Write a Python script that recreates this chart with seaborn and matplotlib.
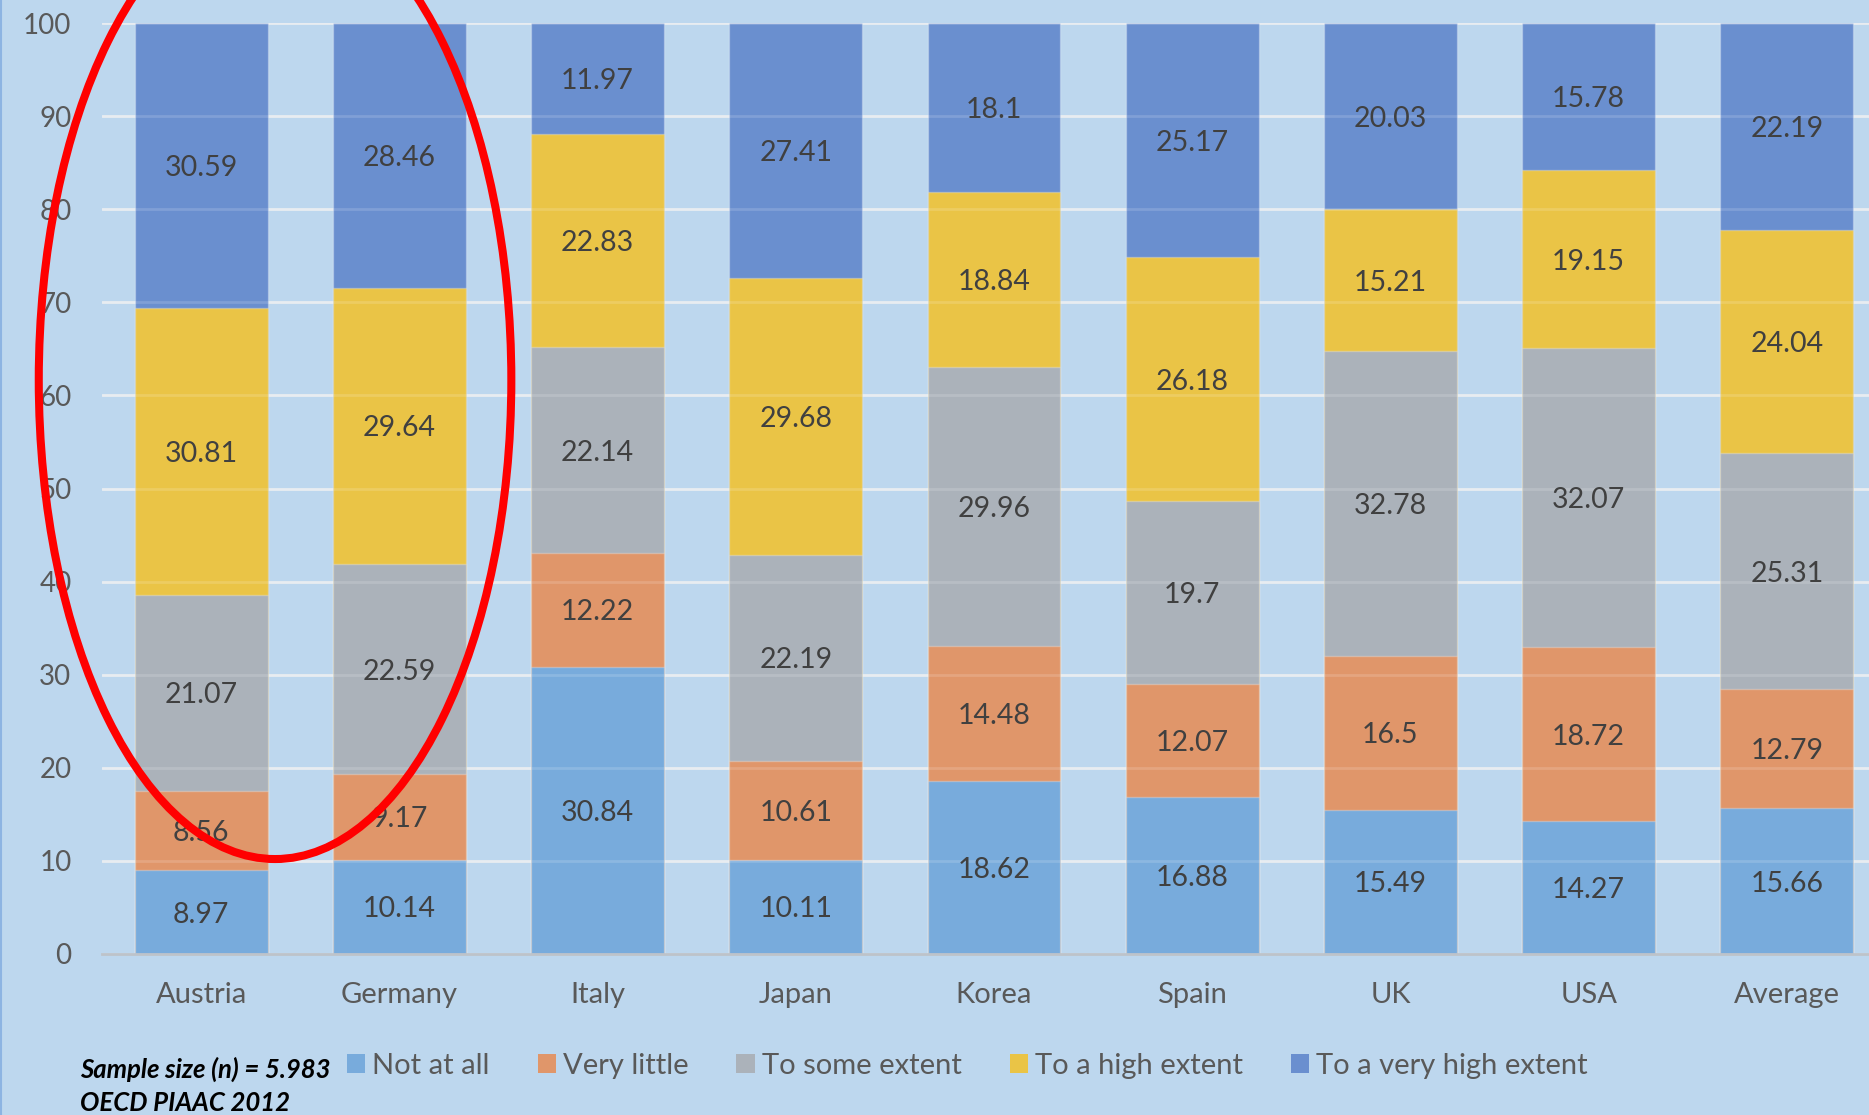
import numpy as np
import pandas as pd
import matplotlib
matplotlib.use("Agg")
import matplotlib.pyplot as plt
from matplotlib.patches import Ellipse, Patch
from matplotlib.lines import Line2D
import seaborn as sns

# --- data -------------------------------------------------------------
countries = ["Austria", "Germany", "Italy", "Japan", "Korea",
             "Spain", "UK", "USA", "Average"]
levels = ["Not at all", "Very little", "To some extent",
          "To a high extent", "To a very high extent"]

not_at_all = [8.97, 10.14, 30.84, 10.11, 18.62, 16.88, 15.49, 14.27, 15.66]
very_little = [8.56, 9.17, 12.22, 10.61, 14.48, 12.07, 16.5, 18.72, 12.79]
some_extent = [21.07, 22.59, 22.14, 22.19, 29.96, 19.7, 32.78, 32.07, 25.31]
high_extent = [30.81, 29.64, 22.83, 29.68, 18.84, 26.18, 15.21, 19.15, 24.04]
very_high_extent = [30.59, 28.46, 11.97, 27.41, 18.1, 25.17, 20.03, 15.78, 22.19]

series = [not_at_all, very_little, some_extent, high_extent, very_high_extent]
colors = ["#78ABDC", "#E0966A", "#ABB2BA", "#EAC446", "#6A8FCF"]

y_ticks = list(range(0, 101, 10))
note_lines = ["Sample size (n) = 5.983", "OECD PIAAC 2012"]

# --- style ------------------------------------------------------------
bg = "#BDD7EE"
sns.set_style("white")
plt.rcParams["font.family"] = ["Lato", "DejaVu Sans"]

W, H = 1869, 1115
fig = plt.figure(figsize=(W / 100, H / 100), dpi=100, facecolor=bg)
ax = fig.add_axes([102 / W, 1 - 954 / H, (1886 - 102) / W, (954 - 23) / H])
ax.set_facecolor(bg)

# cumulative tops, drawn from the tallest layer downwards
df = pd.DataFrame({"country": countries})
cum = np.zeros(len(countries))
for name, vals in zip(levels, series):
    cum = cum + np.array(vals)
    df[name] = cum.copy()

for name, col in reversed(list(zip(levels, colors))):
    sns.barplot(data=df, x="country", y=name, color=col, saturation=1,
                width=0.67, errorbar=None, ax=ax, zorder=2,
                edgecolor=(1, 1, 1, 0.25), linewidth=1)

# segment value labels
bottoms = np.zeros(len(countries))
for vals in series:
    for i, v in enumerate(vals):
        ax.text(i, bottoms[i] + v / 2, f"{v:g}", ha="center",
                va="center_baseline", fontsize=20.5, color="#404040", zorder=6)
    bottoms = bottoms + np.array(vals)

# axes
ax.set_xlim(-0.5, len(countries) - 0.5)
ax.set_ylim(0, 100)
ax.set_yticks(y_ticks)
ax.set_xlabel("")
ax.set_ylabel("")
ax.tick_params(axis="y", length=0, pad=22, labelsize=20, labelcolor="#595959")
ax.tick_params(axis="x", length=0, pad=20, labelsize=21, labelcolor="#595959")
for s in ["left", "right", "top"]:
    ax.spines[s].set_visible(False)
ax.spines["bottom"].set_color("#BDC3CA")
ax.spines["bottom"].set_linewidth(2)
ax.spines["bottom"].set_zorder(7)

ax.set_axisbelow(True)
ax.yaxis.grid(True, color="#E4E9EF", linewidth=2)
for t in y_ticks[1:]:
    ax.axhline(t, color="white", alpha=0.15, linewidth=2, zorder=5)

# highlight ring around the first two countries
ring = Ellipse((0.373, 61.65), 2.384, 102.9, fill=False,
               edgecolor="#FF0000", linewidth=5.8, clip_on=False, zorder=10)
ax.add_patch(ring)

# legend
handles = [Patch(facecolor=c, edgecolor="none") for c in colors]
fig.legend(handles, levels, loc="center left",
           bbox_to_anchor=(347 / W, 1 - 1066 / H), ncol=5, frameon=False,
           fontsize=21, handlelength=0.62, handleheight=0.62,
           handletextpad=0.24, columnspacing=1.65, borderpad=0,
           borderaxespad=0, labelcolor="#595959")

# source note
fig.text(80 / W, 1 - 1069 / H, note_lines[0], fontsize=18.5, fontweight="bold",
         fontstyle="italic", color="black", va="center", ha="left")
fig.text(80 / W, 1 - 1103 / H, note_lines[1], fontsize=18.5, fontweight="bold",
         fontstyle="italic", color="black", va="center", ha="left")

# chart-area border on the left edge
fig.add_artist(Line2D([0.0006, 0.0006], [0, 1], transform=fig.transFigure,
                      color="#8DB4E2", linewidth=1.5))

fig.savefig("out.png", dpi=100, facecolor=bg)
